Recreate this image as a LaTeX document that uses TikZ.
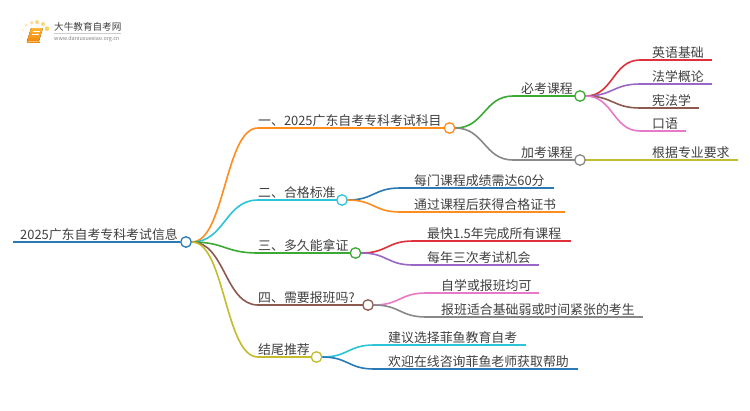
\documentclass[tikz,border=0pt]{standalone}
\usepackage{fontspec}
\setmainfont{Noto Sans CJK SC}
\usetikzlibrary{calc}
\definecolor{cblue}{HTML}{2A7AB8}
\definecolor{corange}{HTML}{FF8C1F}
\definecolor{ccyan}{HTML}{2CC5D8}
\definecolor{cgreen}{HTML}{3AAA35}
\definecolor{cbrown}{HTML}{8C5A4F}
\definecolor{colive}{HTML}{C2BD2E}
\definecolor{cred}{HTML}{E0313A}
\definecolor{cpurple}{HTML}{9A66C8}
\definecolor{cpink}{HTML}{E878C8}
\definecolor{cgray}{HTML}{888888}
\definecolor{ctext}{HTML}{404040}
\definecolor{bookhi}{HTML}{FFB52E}
\definecolor{booklo}{HTML}{F08A10}
\definecolor{bookpg}{HTML}{FFD9A0}
\tikzset{
  x=1pt,y=-1pt,
  lab/.style={anchor=base west,inner sep=0pt,text=ctext,font=\fontsize{12.9}{13}\selectfont},
  dot/.style={circle,draw=#1,fill=white,line width=1.3pt,minimum size=10.5pt,inner sep=0pt},
  conn/.style={draw=#1,line width=1.6pt}
}
\newcommand{\curveto}[3]{%
  \path[conn=#1] let \p1=(#2),\p2=(#3),\n1={(\x1+\x2)/2} in
    (\p1) .. controls (\n1,\y1) and (\n1,\y2) .. (\p2);}
\newcommand{\leaf}[8]{% name color from-node startx endx y textx text
  \coordinate (#1s) at (#4,#6);
  \coordinate (#1e) at (#5,#6);
  \curveto{#2}{#3.east}{#1s}
  \draw[conn=#2] (#1s) -- (#1e);
  \node[lab] (#1t) at (#7,#6-3) {#8};}
\begin{document}
\begin{tikzpicture}
\useasboundingbox (0,0) rectangle (750,410);
\fill[white] (0,0) rectangle (750,410);

% logo
\foreach \px/\py/\r/\c in {26/25/1.5/FFE6A8,31.7/22.7/1.9/FFDD90,37/22/2/FFD77A,43/24/2/FFD77A,47/28.7/2.3/FFD266,22.7/30/1.3/FFEEC4,21.7/36.7/1.2/FFF0D0,24/42.3/1/FFF4E0}{
  \definecolor{tmpc}{HTML}{\c}\fill[tmpc] (\px,\py) circle[radius=\r];}
\fill[rounded corners=1pt,top color=bookhi,bottom color=booklo] (31,28) -- (43,28) -- (39,41) -- (27,41) -- cycle;
\draw[booklo,line width=.7pt,fill=bookpg] (27,41) -- (39,41) -- (39.5,42.5) -- (27.5,42.5) -- cycle;
\draw[white,line width=.5pt] (32.5,31.5) -- (39.5,31.5) (32,34) -- (39,34);
\node[anchor=west,inner sep=0pt,text=ctext,font=\fontsize{9.6}{10}\selectfont] (logot) at (54,27) {大牛教育自考网};
\draw[gray!40,line width=.4pt] (54,33) -- (121,33);
\node[anchor=west,inner sep=0pt,text=gray,font=\fontsize{5.4}{6}\selectfont] (logou) at (54,39) {www.daniuxuexiao.org.cn};

% root
\node[dot=cblue] (root) at (186,242) {};
\coordinate (roots) at (13,242);
\draw[conn=cblue] (roots) -- (root);
\node[lab] (roott) at (20,239) {2025广东自考专科考试信息};

% level 1
\coordinate (as) at (258,128);
\curveto{corange}{root.east}{as}
\draw[conn=corange] (as) -- (449.5,128) node[dot=corange] (a) {};
\node[lab] (at) at (258,125) {一、2025广东自考专科考试科目};

\coordinate (bs) at (258,200);
\curveto{ccyan}{root.east}{bs}
\draw[conn=ccyan] (bs) -- (342,200) node[dot=ccyan] (b) {};
\node[lab] (bt) at (258,197) {二、合格标准};

\coordinate (cs) at (258,253);
\curveto{cgreen}{root.east}{cs}
\draw[conn=cgreen] (cs) -- (355.5,253) node[dot=cgreen] (c) {};
\node[lab] (ct) at (258,250) {三、多久能拿证};

\coordinate (ds) at (258,305);
\curveto{cbrown}{root.east}{ds}
\draw[conn=cbrown] (ds) -- (368,305) node[dot=cbrown] (d) {};
\node[lab] (dt) at (258,302) {四、需要报班吗?};

\coordinate (es) at (258,357);
\curveto{colive}{root.east}{es}
\draw[conn=colive] (es) -- (316.5,357) node[dot=colive] (e) {};
\node[lab] (et) at (258,354) {结尾推荐};

% level 2 under a
\coordinate (a1s) at (513,96);
\curveto{cgreen}{a.east}{a1s}
\draw[conn=cgreen] (a1s) -- (580,96) node[dot=cgreen] (a1) {};
\node[lab] (a1t) at (521,93) {必考课程};

\coordinate (a2s) at (513,160);
\curveto{cgray}{a.east}{a2s}
\draw[conn=cgray] (a2s) -- (580,160) node[dot=cgray] (a2) {};
\node[lab] (a2t) at (521,157) {加考课程};

% leaves
\leaf{la}{cred}{a1}{640}{712}{60}{652}{英语基础}
\leaf{lb}{cpurple}{a1}{640}{712}{84}{652}{法学概论}
\leaf{lc}{cbrown}{a1}{640}{699}{108}{652}{宪法学}
\leaf{ld}{cpink}{a1}{640}{686}{131}{652}{口语}
\leaf{le}{colive}{a2}{640}{738}{160}{652}{根据专业要求}
\leaf{ba}{cblue}{b}{400}{554}{188}{414}{每门课程成绩需达60分}
\leaf{bb}{corange}{b}{400}{565}{212}{414}{通过课程后获得合格证书}
\leaf{ca}{cred}{c}{413}{571}{241}{427}{最快1.5年完成所有课程}
\leaf{cb}{cpurple}{c}{413}{539}{265}{427}{每年三次考试机会}
\leaf{da}{cpink}{d}{426}{539}{293}{441}{自学或报班均可}
\leaf{db}{cgray}{d}{426}{643}{317}{441}{报班适合基础弱或时间紧张的考生}
\leaf{ea}{ccyan}{e}{374}{526}{345}{388}{建议选择菲鱼教育自考}
\leaf{eb}{cblue}{e}{374}{578}{369}{388}{欢迎在线咨询菲鱼老师获取帮助}
\end{tikzpicture}
\end{document}
